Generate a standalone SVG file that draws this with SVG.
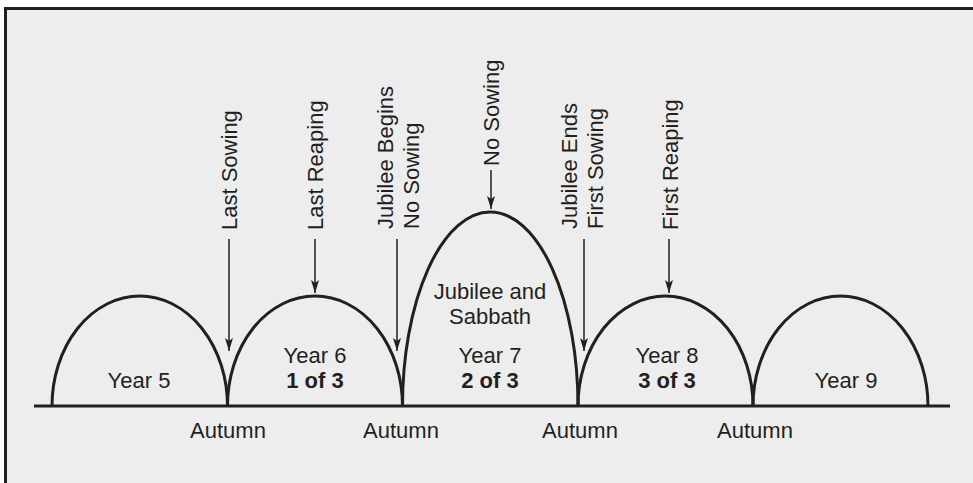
<svg xmlns="http://www.w3.org/2000/svg" width="973" height="483" viewBox="0 0 973 483">
<style>
.t{font-family:"Liberation Sans",Arial,sans-serif;font-size:22px;fill:#231f20}
.c{text-anchor:middle}
.b{font-weight:bold}
.arch{fill:none;stroke:#231f20;stroke-width:3}
.arr{stroke:#231f20;stroke-width:1.5;fill:none;marker-end:url(#ah)}
</style>
<defs>
<marker id="ah" markerWidth="14" markerHeight="10" refX="13" refY="5" orient="auto" markerUnits="userSpaceOnUse">
<path d="M0,1 L13,5 L0,9 L3,5 Z" fill="#231f20"/>
</marker>
</defs>
<rect x="0" y="0" width="973" height="483" fill="#ffffff"/>
<rect x="5.5" y="8.5" width="980" height="490" fill="#ededed" stroke="#231f20" stroke-width="3"/>
<g id="baseline">
<line x1="34" y1="406" x2="950" y2="406" stroke="#231f20" stroke-width="3"/>
</g>
<g id="year5">
<path class="arch" d="M52,406 A87.75,110 0 0 1 227.5,406"/>
<text class="t c" x="139" y="388">Year 5</text>
</g>
<g id="year6">
<path class="arch" d="M227.5,406 A87.5,110 0 0 1 402.5,406"/>
<text class="t c" x="315" y="363">Year 6</text>
<text class="t c b" x="315" y="388">1 of 3</text>
</g>
<g id="year7">
<path class="arch" d="M402.5,406 A87.75,194 0 0 1 578,406"/>
<text class="t c" x="490" y="299">Jubilee and</text>
<text class="t c" x="490" y="324">Sabbath</text>
<text class="t c" x="490" y="363">Year 7</text>
<text class="t c b" x="490" y="388">2 of 3</text>
</g>
<g id="year8">
<path class="arch" d="M578,406 A87.5,110 0 0 1 753,406"/>
<text class="t c" x="667" y="363">Year 8</text>
<text class="t c b" x="667" y="388">3 of 3</text>
</g>
<g id="year9">
<path class="arch" d="M753,406 A87.5,110 0 0 1 928,406"/>
<text class="t c" x="846" y="388">Year 9</text>
</g>
<g id="autumn">
<text class="t c" x="228" y="438">Autumn</text>
<text class="t c" x="401" y="438">Autumn</text>
<text class="t c" x="580" y="438">Autumn</text>
<text class="t c" x="755" y="438">Autumn</text>
</g>
<g id="labels">
<text class="t" transform="translate(237,230) rotate(-90)">Last Sowing</text>
<text class="t" transform="translate(323,230) rotate(-90)">Last Reaping</text>
<text class="t" transform="translate(393,229) rotate(-90)">Jubilee Begins</text>
<text class="t" transform="translate(419,229) rotate(-90)">No Sowing</text>
<text class="t" transform="translate(499,166) rotate(-90)">No Sowing</text>
<text class="t" transform="translate(577,229) rotate(-90)">Jubilee Ends</text>
<text class="t" transform="translate(603,229) rotate(-90)">First Sowing</text>
<text class="t" transform="translate(678,230) rotate(-90)">First Reaping</text>
</g>
<g id="connectors">
<line class="arr" x1="229" y1="239" x2="229" y2="351"/>
<line class="arr" x1="315" y1="239" x2="315" y2="293"/>
<line class="arr" x1="397" y1="239" x2="397" y2="351"/>
<line class="arr" x1="491" y1="170" x2="491" y2="209"/>
<line class="arr" x1="584" y1="239" x2="584" y2="351"/>
<line class="arr" x1="669" y1="239" x2="669" y2="293"/>
</g>
</svg>
